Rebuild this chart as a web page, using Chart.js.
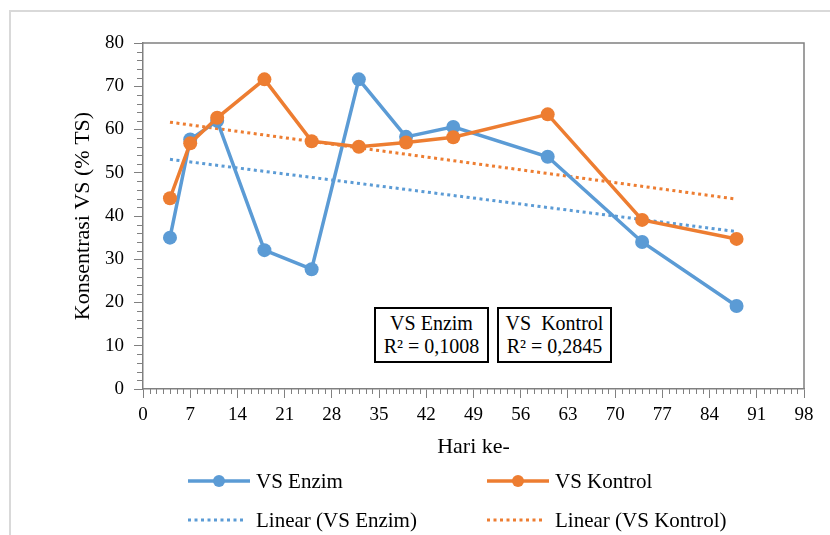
<!DOCTYPE html>
<html>
<head>
<meta charset="utf-8">
<script src="https://cdn.jsdelivr.net/npm/chart.js@4.4.1/dist/chart.umd.min.js"></script>
<style>
  html, body { margin: 0; padding: 0; background: #fff; }
  #wrap { position: relative; width: 830px; height: 535px; overflow: hidden; }
  #frame { position: absolute; left: 9px; top: 10px; width: 900px; height: 600px;
           border-left: 2px solid #d9d9d9; border-top: 2px solid #d9d9d9; }
  #grafik { position: absolute; left: 0; top: 0; }
  .kotak { position: absolute; box-sizing: border-box; height: 56px; border: 2px solid #000;
           background: #fff; font-family: "Liberation Serif", "Times New Roman", serif; font-size: 20px;
           line-height: 23px; text-align: center; padding-top: 3px; color: #000; }
</style>
</head>
<body>
<div id="wrap">
  <div id="frame"></div>
  <canvas id="grafik" width="830" height="535"></canvas>
  <div class="kotak" style="left:374px; top:307px; width:115px;">VS Enzim<br>R² = 0,1008</div>
  <div class="kotak" style="left:497px; top:307px; width:115px;">VS&nbsp; Kontrol<br>R² = 0,2845</div>
</div>
<script>
/* Data */
const hari = [4, 7, 11, 18, 25, 32, 39, 46, 60, 74, 88]
const vsEnzim = [35, 57.7, 62, 32.1, 27.7, 71.6, 58.3, 60.6, 53.7, 34, 19.2]
const vsKontrol = [44.1, 56.8, 62.7, 71.6, 57.3, 56, 57, 58.2, 63.5, 39.1, 34.7]

// garis trend (ujung kiri dan kanan)
const hariTrend = [4, 88]
const trendEnzim = [53.1, 36.4]
const trendKontrol = [61.7, 43.9]

const xMin = 0, xMax = 98, xStep = 7
const yMin = 0, yMax = 80, yStep = 10

const biru = '#5b9bd5'
const oranye = '#ed7d31'
const huruf = 'Liberation Serif'
const abu = '#808080'

const titik = (xs, ys) => xs.map((x, i) => ({ x: x, y: ys[i] }))

// tick kecil (minor) + bingkai area plot
const minorTicks = {
  id: 'minorTicks',
  afterDraw(chart) {
    const { ctx, chartArea, scales } = chart
    ctx.save()
    ctx.strokeStyle = abu
    ctx.lineWidth = 1
    for (let v = xMin; v <= xMax; v++) {
      if (v % xStep === 0) continue
      const px = Math.round(scales.x.getPixelForValue(v)) + 0.5
      ctx.beginPath()
      ctx.moveTo(px, chartArea.bottom)
      ctx.lineTo(px, chartArea.bottom + 5)
      ctx.stroke()
    }
    for (let v = yMin; v <= yMax; v += 2) {
      if (v % yStep === 0) continue
      const py = Math.round(scales.y.getPixelForValue(v)) + 0.5
      ctx.beginPath()
      ctx.moveTo(chartArea.left - 6, py)
      ctx.lineTo(chartArea.left, py)
      ctx.stroke()
    }
    ctx.lineWidth = 1.5
    ctx.beginPath()
    ctx.moveTo(chartArea.left, chartArea.top)
    ctx.lineTo(chartArea.right, chartArea.top)
    ctx.lineTo(chartArea.right, chartArea.bottom)
    ctx.stroke()
    ctx.restore()
  }
}

// legenda 2 kolom x 2 baris
const legenda = {
  id: 'legenda',
  afterDraw(chart) {
    const ctx = chart.ctx
    const posisi = [[188, 481], [487, 481], [188, 520], [487, 520]]
    ctx.save()
    chart.data.datasets.forEach((ds, i) => {
      const [x, y] = posisi[i]
      ctx.strokeStyle = ds.borderColor
      ctx.lineWidth = ds.borderWidth
      ctx.setLineDash(ds.borderDash || [])
      ctx.beginPath()
      ctx.moveTo(x, y)
      ctx.lineTo(x + (ds.borderDash ? 56 : 62), y)
      ctx.stroke()
      ctx.setLineDash([])
      if (ds.pointRadius > 0) {
        ctx.fillStyle = ds.borderColor
        ctx.beginPath()
        ctx.arc(x + 31, y, 6, 0, Math.PI * 2)
        ctx.fill()
      }
      ctx.fillStyle = '#000'
      ctx.font = '21px "' + huruf + '"'
      ctx.textBaseline = 'middle'
      ctx.fillText(ds.label, x + 68, y + 1)
    })
    ctx.restore()
  }
}

const ctx = document.getElementById('grafik')
const grafik = new Chart(ctx, {
  type: 'line',
  data: {
    datasets: [{
      label: 'VS Enzim',
      data: titik(hari, vsEnzim),
      borderColor: biru,
      backgroundColor: biru,
      borderWidth: 3.5,
      pointRadius: 7,
      pointBorderWidth: 0,
      order: 2
    }, {
      label: 'VS Kontrol',
      data: titik(hari, vsKontrol),
      borderColor: oranye,
      backgroundColor: oranye,
      borderWidth: 3.5,
      pointRadius: 7,
      pointBorderWidth: 0,
      order: 1
    }, {
      label: 'Linear (VS Enzim)',
      data: titik(hariTrend, trendEnzim),
      borderColor: biru,
      borderWidth: 3,
      borderDash: [3, 3.5],
      pointRadius: 0,
      order: 4
    }, {
      label: 'Linear (VS Kontrol)',
      data: titik(hariTrend, trendKontrol),
      borderColor: oranye,
      borderWidth: 3,
      borderDash: [3, 3.5],
      pointRadius: 0,
      order: 3
    }]
  },
  options: {
    responsive: false,
    animation: false,
    layout: { padding: { left: 66, top: 43, right: 26, bottom: 71 } },
    plugins: {
      legend: { display: false },
      tooltip: { enabled: false }
    },
    scales: {
      x: {
        type: 'linear',
        min: xMin,
        max: xMax,
        ticks: {
          stepSize: xStep,
          autoSkip: false,
          maxRotation: 0,
          padding: 6,
          color: '#000',
          font: { family: huruf, size: 19 }
        },
        grid: { drawOnChartArea: false, tickLength: 9, color: abu },
        border: { color: abu, width: 1.5 },
        title: {
          display: true,
          text: 'Hari ke-',
          color: '#000',
          font: { family: huruf, size: 22 },
          padding: { top: 0, bottom: 4 }
        },
        afterFit: s => { s.height = 75 }
      },
      y: {
        min: yMin,
        max: yMax,
        ticks: {
          stepSize: yStep,
          padding: 10,
          color: '#000',
          font: { family: huruf, size: 19 }
        },
        grid: { drawOnChartArea: false, tickLength: 9, color: abu },
        border: { color: abu, width: 1.5 },
        title: {
          display: true,
          text: 'Konsentrasi VS (% TS)',
          color: '#000',
          font: { family: huruf, size: 22 },
          padding: { top: 4, bottom: 0 }
        },
        afterFit: s => { s.width = 77 }
      }
    }
  },
  plugins: [minorTicks, legenda]
})
</script>
</body>
</html>
